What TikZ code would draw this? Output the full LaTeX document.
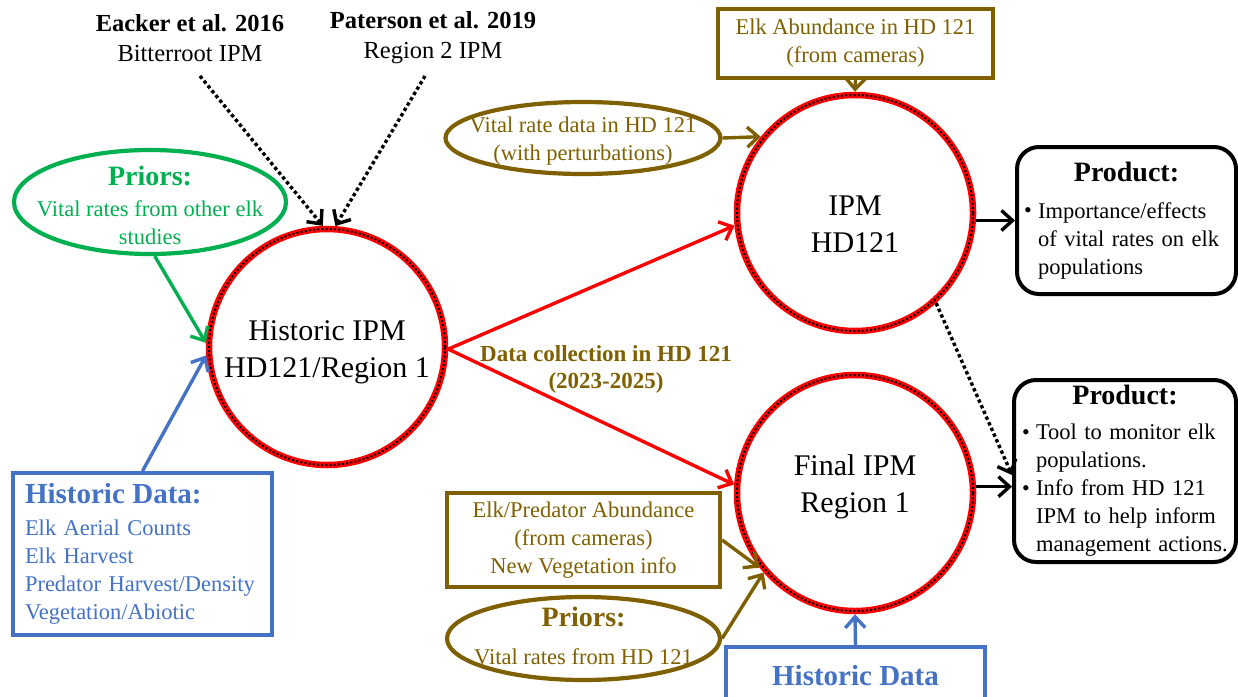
\documentclass[tikz,border=0pt]{standalone}
\usepackage{fontspec}
\setmainfont{Liberation Serif}
\usetikzlibrary{arrows.meta,shapes.geometric}
\definecolor{prgreen}{HTML}{00B050}
\definecolor{hdblue}{HTML}{4472C4}
\definecolor{hdolive}{HTML}{7F6000}
\newcommand\fsbody{\fontsize{22.5}{28}\selectfont}
\newcommand\fshead{\fontsize{28}{30}\selectfont\bfseries}
\newcommand\fsheadb{\fontsize{29}{30}\selectfont\bfseries}
\newcommand\bul{\makebox[14pt][l]{\raisebox{0.5pt}{\fontsize{22}{22}\selectfont\textbullet}}}
\newcommand\bulind{\hspace*{14pt}}
\begin{document}
\begin{tikzpicture}[x=1pt,y=-1pt,
  ipmcircle/.style={circle, draw=red, line width=6.5pt, minimum size=236pt, inner sep=0pt,
    postaction={draw=black, line width=2pt, dash pattern=on 2pt off 2.2pt}},
  circtext/.style={align=center, font=\fontsize{30}{37}\selectfont, inner sep=0pt},
  toptext/.style={align=center, font=\fontsize{24.5}{30}\selectfont, inner sep=0pt},
  conn/.style={line width=3.4pt, -{Straight Barb[length=11pt,width=20pt]}},
  dotconn/.style={conn, black, dash pattern=on 3.4pt off 2.8pt},
  olivebox/.style={rectangle, draw=hdolive, line width=4.2pt, fill=white, text=hdolive,
    align=center, font=\fsbody, inner sep=0pt},
  oliveell/.style={ellipse, draw=hdolive, line width=4.2pt, inner sep=0pt},
  olivetext/.style={text=hdolive, align=center, font=\fsbody, inner sep=0pt},
  prodbox/.style={rectangle, rounded corners=22pt, draw=black, line width=4pt, fill=white,
    align=left, font=\fsbody},
  bluebox/.style={rectangle, draw=hdblue, line width=4pt, fill=white, text=hdblue, font=\fsbody}
]
\useasboundingbox (0,0) rectangle (1238,696);

% top references
\node[toptext] (eacker) at (190,38) {\textbf{Eacker et al. 2016}\\Bitterroot IPM};
\node[toptext] (paterson) at (433,38) {\textbf{Paterson et al. 2019}\\Region 2 IPM};
\coordinate (eackerfoot) at (200,76);
\coordinate (patersonfoot) at (425,76);

% circles
\node[ipmcircle] (hist) at (327,347) {};
\node[circtext] (histtxt) at (327,352) {Historic IPM\\HD121/Region 1};
\node[ipmcircle] (ipm) at (855,213) {};
\node[circtext] (ipmtxt) at (855,224) {IPM\\HD121};
\node[ipmcircle] (final) at (855,493) {};
\node[circtext] (finaltxt) at (855,487) {Final IPM\\Region 1};

% green priors
\node[ellipse, draw=prgreen, line width=4.2pt, minimum width=272pt, minimum height=104pt, inner sep=0pt] (priorsG) at (150,202) {};
\node[text=prgreen, align=center, inner sep=0pt, font=\fsbody] (priorsGtxt) at (150,205)
  {{\fshead Priors:}\\[3pt]Vital rates from other elk\\studies};

% blue historic data
\node[bluebox, minimum width=259pt, minimum height=162pt, text width=235pt, inner xsep=12pt, align=left] (histdata) at (142.5,554)
  {{\fsheadb Historic Data:}\\[4pt]Elk Aerial Counts\\Elk Harvest\\Predator Harvest/Density\\Vegetation/Abiotic};

% olive inputs
\node[olivebox, minimum width=275pt, minimum height=69pt] (elkab) at (855.5,43.5)
  {Elk Abundance in HD 121\\(from cameras)};
\node[oliveell, minimum width=275pt, minimum height=72pt] (vital) at (583,138) {};
\node[olivetext] (vitaltxt) at (583,141) {Vital rate data in HD 121\\(with perturbations)};
\node[olivebox, minimum width=273pt, minimum height=94pt] (elkpred) at (583.5,540)
  {Elk/Predator Abundance\\(from cameras)\\New Vegetation info};
\node[oliveell, minimum width=273pt, minimum height=83pt] (priorsO) at (583.5,638.5) {};
\node[olivetext] (priorsOtxt) at (583.5,636) {{\fshead Priors:}\\[10pt]Vital rates from HD 121};

\node[bluebox, minimum width=259pt, minimum height=58pt, inner sep=0pt] (histdata2) at (855.5,676)
  {\fsheadb Historic Data};

% data collection label
\node[font=\fontsize{23}{27}\selectfont\bfseries, text=hdolive, align=center, inner sep=0pt] (datalbl) at (606,369)
  {Data collection in HD 121\\(2023-2025)};

% products
\node[prodbox, minimum width=219pt, minimum height=147pt, text width=205pt, inner xsep=7pt] (prod1) at (1126.5,220.5)
  {\makebox[205pt]{\fshead Product:}\\[9pt]\bul Importance/effects\\\bulind of vital rates on elk\\\bulind populations};
\node[prodbox, minimum width=222pt, minimum height=182pt, text width=206pt, inner xsep=8pt] (prod2) at (1125,471)
  {\makebox[206pt]{\fshead Product:}\\[7pt]\bul Tool to monitor elk\\\bulind populations.\\\bul Info from HD 121\\\bulind IPM to help inform\\\bulind management actions.};

% connectors
\draw[dotconn] (eackerfoot) -- (hist.92);
\draw[dotconn] (patersonfoot) -- (hist.86);
\draw[conn, prgreen] (priorsG.-85) -- (hist.178);
\draw[conn, hdblue] (histdata.north) -- (hist.184);
\draw[conn, red] (hist.-1) -- (ipm.186);
\draw[conn, red] (hist.-1) -- (final.176);
\draw[conn, hdolive] (vital.east) -- (ipm.141);
\draw[conn, hdolive] (elkab.south) -- (ipm.north);
\draw[conn, hdolive] (elkpred.east) -- (final.218);
\draw[conn, hdolive] (priorsO.east) -- (final.221);
\draw[conn, hdblue] (histdata2.north) -- (final.south);
\draw[conn] (ipm.east |- prod1.west) -- (prod1.west);
\draw[conn] (final.3) -- (final.3 -| prod2.west);
\draw[dotconn] (ipm.-48) -- ([yshift=-4pt]prod2.west);
\end{tikzpicture}
\end{document}
